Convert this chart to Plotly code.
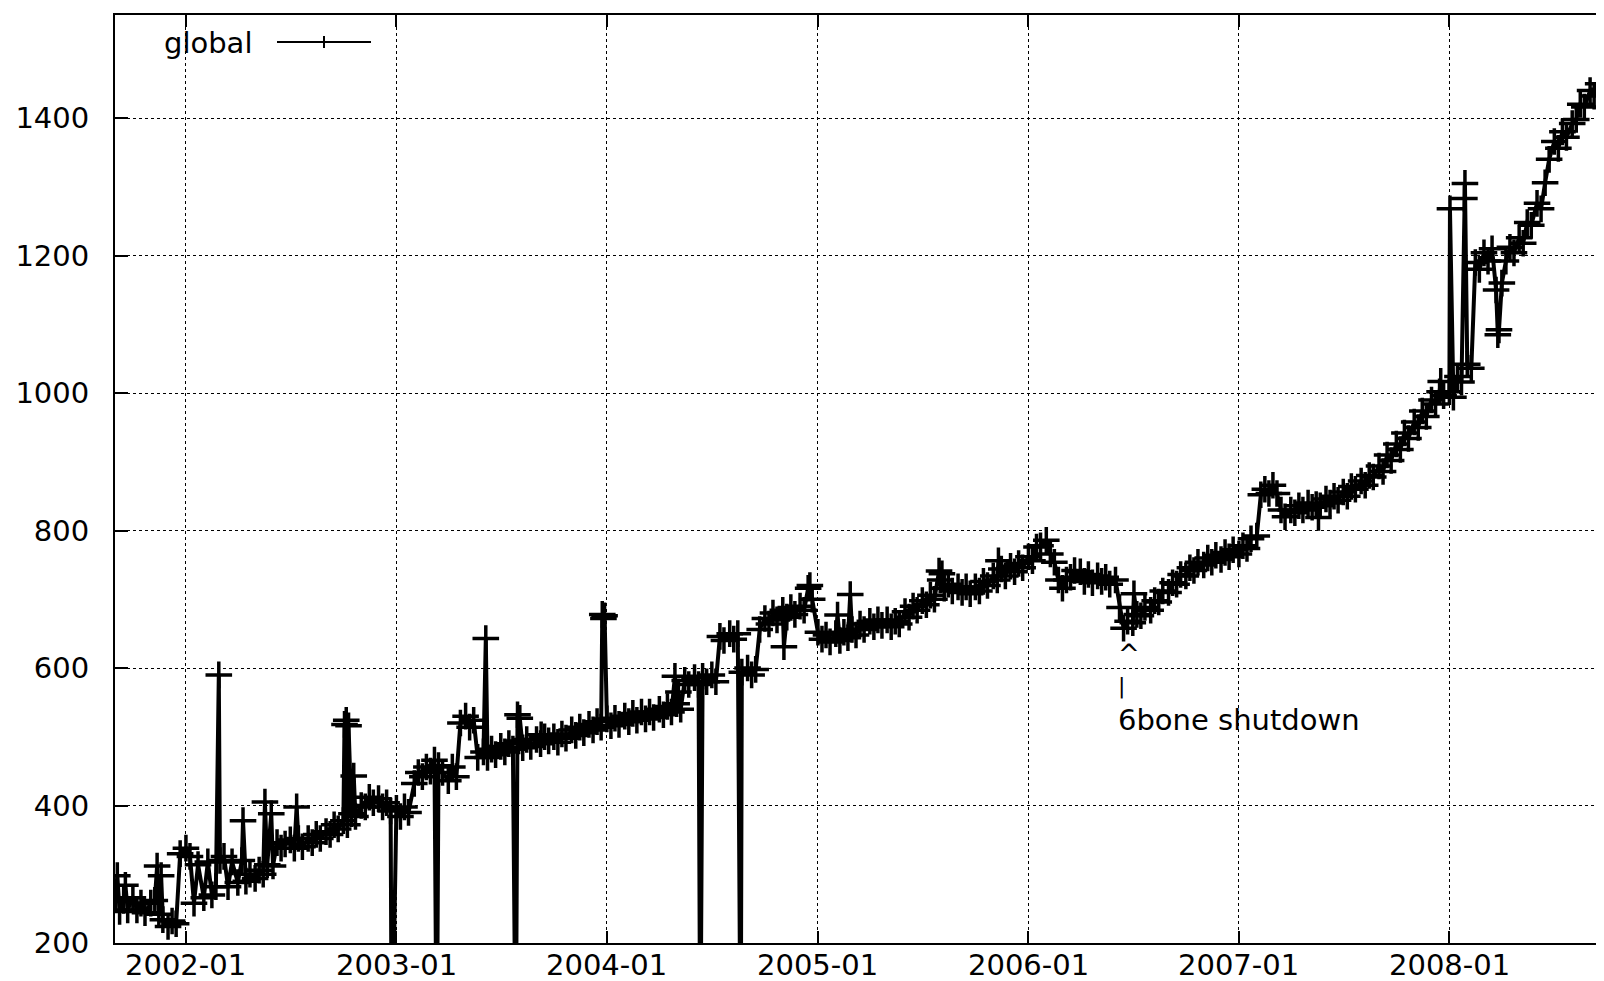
import plotly.graph_objects as go
import pandas as pd

# ---- data: 4 samples per month (days 1, 8, 15, 22) ----
sample_days = [1, 8, 15, 22]

v2001 = [  # Sep - Dec
    265, 246, 262, 248,
    266, 248, 258, 244,
    258, 262, 242, 234,
    224, 232, 228, 330,
]
v2002 = [
    338, 326, 258, 314,
    266, 318, 270, 282,
    320, 326, 282, 318,
    288, 320, 290, 300,
    294, 306, 300, 314,
    312, 346, 338, 344,
    350, 338, 352, 340,
    352, 346, 358, 352,
    362, 358, 372, 366,
    378, 372, 388, 384,
    400, 398, 412, 404,
    410, 398, 404, 392,
]
v2003 = [
    396, 384, 398, 390,
    432, 448, 442, 456,
    450, 466, 458, 448,
    436, 456, 442, 520,
    530, 514, 524, 470,
    478, 470, 482, 474,
    486, 478, 490, 482,
    494, 484, 496, 486,
    496, 490, 500, 494,
    500, 492, 504, 498,
    510, 502, 514, 506,
    518, 510, 522, 514,
]
v2004 = [
    526, 516, 527, 518,
    530, 522, 534, 524,
    536, 526, 536, 528,
    540, 532, 544, 536,
    548, 540, 582, 576,
    586, 576, 588, 580,
    590, 580, 646, 640,
    650, 642, 650, 594,
    600, 590, 598, 656,
    672, 664, 680, 670,
    684, 674, 688, 678,
    690, 684, 716, 700,
]
v2005 = [
    652, 642, 648, 638,
    650, 640, 652, 644,
    656, 648, 664, 656,
    668, 660, 670, 662,
    670, 660, 668, 664,
    682, 674, 690, 684,
    698, 692, 706, 700,
    728, 716, 722, 712,
    718, 710, 718, 708,
    718, 712, 726, 720,
    734, 728, 744, 734,
    748, 740, 752, 746,
]
v2006 = [
    762, 756, 776, 778,
    786, 766, 754, 728,
    716, 728, 732, 742,
    740, 726, 736, 724,
    734, 726, 732, 722,
    728, 688, 658, 668,
    666, 678, 676, 688,
    684, 698, 696, 712,
    710, 724, 722, 736,
    734, 746, 742, 754,
    750, 760, 754, 764,
    758, 768, 762, 772,
]
v2007 = [
    766, 778, 774, 788,
    792, 852, 860, 854,
    866, 854, 830, 820,
    830, 826, 836, 830,
    840, 834, 838, 836,
    846, 840, 850, 844,
    856, 850, 864, 860,
    872, 866, 880, 878,
    894, 886, 910, 902,
    926, 918, 942, 934,
    958, 950, 974, 966,
    990, 984, 1002, 996,
]
v2008 = [  # Jan - early Oct
    1002, 994, 1024, 1016,
    1042, 1036, 1190, 1180,
    1204, 1192, 1210, 1150,
    1160, 1192, 1212, 1204,
    1226, 1218, 1248, 1244,
    1276, 1268, 1306, 1340,
    1366, 1356, 1380, 1372,
    1392, 1398, 1420, 1416,
    1440, 1432, 1450, 1442,
    1446, 1380,
]

# isolated outliers (single samples)
spike_dates = [
    "2001-09-04", "2001-09-18", "2001-11-12", "2001-11-19", "2002-02-27",
    "2002-04-10", "2002-05-18", "2002-05-29", "2002-07-12", "2002-10-03",
    "2002-10-06", "2002-10-10", "2002-10-19", "2002-12-24", "2003-03-12",
    "2003-06-05", "2003-07-27", "2003-07-30", "2003-08-03", "2003-09-09",
    "2003-12-24", "2003-12-26", "2003-12-28", "2004-04-28", "2004-05-04",
    "2004-06-11", "2004-08-17", "2004-08-20", "2004-11-03", "2004-12-18",
    "2005-02-04", "2005-02-26", "2005-07-30", "2005-08-04", "2005-11-10",
    "2006-07-03", "2007-05-19", "2007-12-17", "2008-01-02", "2008-01-27",
    "2008-01-28", "2008-03-25", "2008-03-27", "2008-10-05",
]
spike_vals = [
    298, 284, 312, 298, 590,
    378, 405, 388, 398, 518,
    524, 516, 443, 0, 0,
    643, 0, 532, 527, 503,
    678, 672, 676, 588, 565,
    0, 0, 0, 631, 720,
    677, 707, 741, 737, 756,
    708, 819, 1017, 1268, 1283,
    1305, 1085, 1092, 1365,
]

x_tick_vals = ["2002-01-01", "2003-01-01", "2004-01-01", "2005-01-01",
               "2006-01-01", "2007-01-01", "2008-01-01"]
x_tick_text = ["2002-01", "2003-01", "2004-01", "2005-01",
               "2006-01", "2007-01", "2008-01"]
y_tick_vals = [200, 400, 600, 800, 1000, 1200, 1400]

# ---- assemble series ----
year_blocks = [(2001, 9, v2001), (2002, 1, v2002), (2003, 1, v2003), (2004, 1, v2004),
               (2005, 1, v2005), (2006, 1, v2006), (2007, 1, v2007), (2008, 1, v2008)]
dates, vals = [], []
for year, m0, block in year_blocks:
    for i, v in enumerate(block):
        m = m0 + i // 4
        d = sample_days[i % 4]
        dates.append(pd.Timestamp(year=year, month=m, day=d))
        vals.append(v)
for d, v in zip(spike_dates, spike_vals):
    dates.append(pd.Timestamp(d))
    vals.append(v)
df = pd.DataFrame({"date": dates, "value": vals}).sort_values("date")

FONT = "DejaVu Sans, Liberation Sans, sans-serif"
FS = 29

fig = go.Figure()
fig.add_trace(go.Scatter(
    x=df["date"], y=df["value"], mode="lines+markers", name="global",
    line=dict(color="black", width=4),
    marker=dict(symbol="cross-thin", size=19, color="black",
                line=dict(color="black", width=3.5)),
    showlegend=False,
))

# pixel helpers for paper coordinates (plot area: x 107..1604, y 7..935)
def px_x(p):
    return (p - 107) / 1497
def px_y(p):
    return (935 - p) / 928

# legend (gnuplot style: text, then sample)
fig.add_annotation(xref="paper", yref="paper", x=px_x(246), y=px_y(35),
                   text="global", showarrow=False, xanchor="right", yanchor="middle",
                   font=dict(family=FONT, size=FS, color="black"))
fig.add_shape(type="line", xref="paper", yref="paper",
              x0=px_x(269), x1=px_x(363), y0=px_y(34), y1=px_y(34),
              line=dict(color="black", width=2))
fig.add_shape(type="line", xref="paper", yref="paper",
              x0=px_x(316), x1=px_x(316), y0=px_y(28), y1=px_y(40),
              line=dict(color="black", width=2))

# x tick labels
for tv, tt in zip(x_tick_vals, x_tick_text):
    fig.add_annotation(x=tv, xref="x", yref="paper", y=px_y(957), text=tt,
                       showarrow=False, xanchor="center", yanchor="middle",
                       font=dict(family=FONT, size=FS, color="black"))

# 6bone annotation
ann_x = "2006-06-02"
fig.add_annotation(x=ann_x, y=620, text="^", showarrow=False,
                   xanchor="left", yanchor="middle",
                   font=dict(family=FONT, size=26, color="black"))
fig.add_annotation(x=ann_x, y=574, text="|", showarrow=False,
                   xanchor="left", yanchor="middle",
                   font=dict(family=FONT, size=22, color="black"))
fig.add_annotation(x=ann_x, y=525, text="6bone shutdown", showarrow=False,
                   xanchor="left", yanchor="middle",
                   font=dict(family=FONT, size=FS, color="black"))

fig.update_layout(
    width=1604, height=981,
    margin=dict(l=107, r=0, t=7, b=46),
    paper_bgcolor="white", plot_bgcolor="white",
    font=dict(family=FONT, size=FS, color="black"),
    xaxis=dict(
        type="date", range=["2001-08-31", "2008-10-09"],
        tickvals=x_tick_vals, showticklabels=False,
        ticks="inside", ticklen=12, tickwidth=2, tickcolor="black",
        showline=True, linecolor="black", linewidth=2, mirror="ticks",
        showgrid=True, gridcolor="black", gridwidth=1, griddash="dot",
        zeroline=False, automargin=False,
    ),
    yaxis=dict(
        range=[200, 1550], tickvals=y_tick_vals,
        ticks="inside", ticklen=13, tickwidth=2, tickcolor="black",
        showline=True, linecolor="black", linewidth=2, mirror=False,
        showgrid=True, gridcolor="black", gridwidth=1, griddash="dot",
        zeroline=False, automargin=False, ticklabelstandoff=18,
        tickfont=dict(family=FONT, size=FS, color="black"),
    ),
)

fig.write_html("out.html")
